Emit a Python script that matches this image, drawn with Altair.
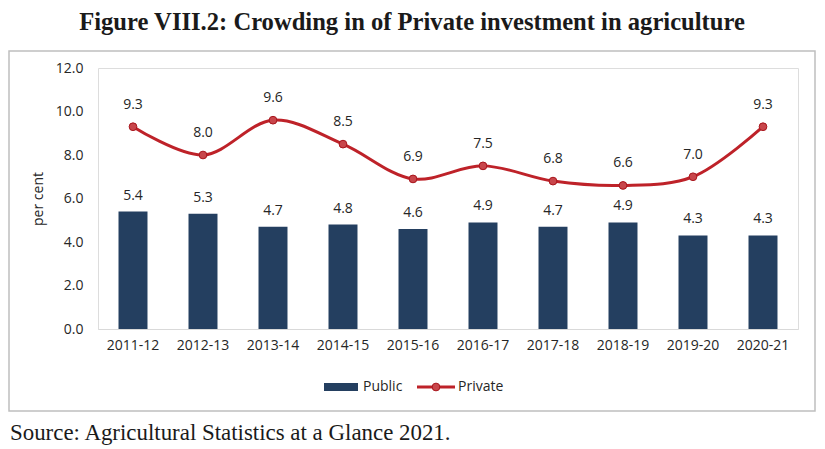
import altair as alt
import pandas as pd

years = ["2011-12", "2012-13", "2013-14", "2014-15", "2015-16",
         "2016-17", "2017-18", "2018-19", "2019-20", "2020-21"]
public = [5.4, 5.3, 4.7, 4.8, 4.6, 4.9, 4.7, 4.9, 4.3, 4.3]
private = [9.3, 8.0, 9.6, 8.5, 6.9, 7.5, 6.8, 6.6, 7.0, 9.3]
series_names = ["Public", "Private"]
title_text = "Figure VIII.2: Crowding in of Private investment in agriculture"
source_text = "Source: Agricultural Statistics at a Glance 2021."

BAR = "#243F60"
LINE = "#BE2229"
PT_FILL = "#C8464B"
FONT = "Open Sans"

df = pd.DataFrame({"year": years, "public": public, "private": private})
one = pd.DataFrame({"k": [0]})

W, H = 700, 261

x = alt.X("year:N", sort=years, title=None,
          scale=alt.Scale(paddingInner=0.586, paddingOuter=0.293),
          axis=alt.Axis(labelAngle=0, labelFontSize=14, labelFont=FONT,
                        labelColor="#262626", ticks=False, domainColor="#D9D9D9",
                        domainWidth=1, labelPadding=9, grid=False, zindex=1))
yscale = alt.Scale(domain=[0, 12])
yaxis = alt.Axis(values=[0, 2, 4, 6, 8, 10, 12], format=".1f", labelFontSize=14,
                 labelFont=FONT, labelColor="#262626", ticks=False, domain=False,
                 grid=False, labelPadding=15, title="per cent", titleFont=FONT,
                 titleFontSize=14, titleFontWeight="normal", titleColor="#262626",
                 titlePadding=10, zindex=1)

base = alt.Chart(df)

frame = alt.Chart(one).mark_rect(fill="white", fillOpacity=0, stroke="#BFBFBF",
                                 strokeWidth=1.5).encode(
    x=alt.value(-89), x2=alt.value(717), y=alt.value(-17), y2=alt.value(343))

bars = base.mark_bar(color=BAR).encode(
    x=x, y=alt.Y("public:Q", scale=yscale, axis=yaxis))
bar_text = base.mark_text(font=FONT, fontSize=14, color="#262626",
                          baseline="middle", dy=-16).encode(
    x=alt.X("year:N", sort=years), y=alt.Y("public:Q", scale=yscale),
    text=alt.Text("public:Q", format=".1f"))
line = base.mark_line(color=LINE, strokeWidth=3, interpolate="catmull-rom").encode(
    x=alt.X("year:N", sort=years), y=alt.Y("private:Q", scale=yscale))
pts = base.mark_point(filled=True, size=60, fill=PT_FILL, stroke="#A8151C",
                      strokeWidth=1, opacity=1).encode(
    x=alt.X("year:N", sort=years), y=alt.Y("private:Q", scale=yscale))
pt_text = base.mark_text(font=FONT, fontSize=14, color="#262626",
                         baseline="middle", dy=-22).encode(
    x=alt.X("year:N", sort=years), y=alt.Y("private:Q", scale=yscale),
    text=alt.Text("private:Q", format=".1f"))

# legend
leg_pub = alt.Chart(one).mark_rect(color=BAR).encode(
    x=alt.value(226), x2=alt.value(260), y=alt.value(315), y2=alt.value(323))
leg_pub_t = alt.Chart(one).mark_text(font=FONT, fontSize=14, color="#262626",
                                     align="left", baseline="middle",
                                     text=series_names[0]).encode(
    x=alt.value(265), y=alt.value(319))
leg_prv_l = alt.Chart(one).mark_rule(color=LINE, strokeWidth=3).encode(
    x=alt.value(319), x2=alt.value(357), y=alt.value(319))
leg_prv_p = alt.Chart(one).mark_point(filled=True, size=60, fill=PT_FILL,
                                      stroke="#A8151C", strokeWidth=1, opacity=1).encode(
    x=alt.value(338), y=alt.value(319))
leg_prv_t = alt.Chart(one).mark_text(font=FONT, fontSize=14, color="#262626",
                                     align="left", baseline="middle",
                                     text=series_names[1]).encode(
    x=alt.value(360), y=alt.value(319))

title = alt.Chart(one).mark_text(font="Liberation Serif", fontSize=24.6, fontWeight="bold",
                                 color="#1a1a1a", align="center", baseline="alphabetic",
                                 text=title_text).encode(
    x=alt.value(314), y=alt.value(-38))
source = alt.Chart(one).mark_text(font="Liberation Serif", fontSize=22.9,
                                  color="#1a1a1a", align="left", baseline="alphabetic",
                                  text=source_text).encode(
    x=alt.value(-88), y=alt.value(372))

chart = alt.layer(frame, bars, bar_text, line, pts, pt_text,
                  leg_pub, leg_pub_t, leg_prv_l, leg_prv_p, leg_prv_t,
                  title, source).properties(
    width=W, height=H,
    padding={"left": 0, "top": 2, "right": 0, "bottom": 0},
).configure_view(stroke=None).configure(background="white")

chart.save("out.html", embed_options={"renderer": "svg", "actions": False})
